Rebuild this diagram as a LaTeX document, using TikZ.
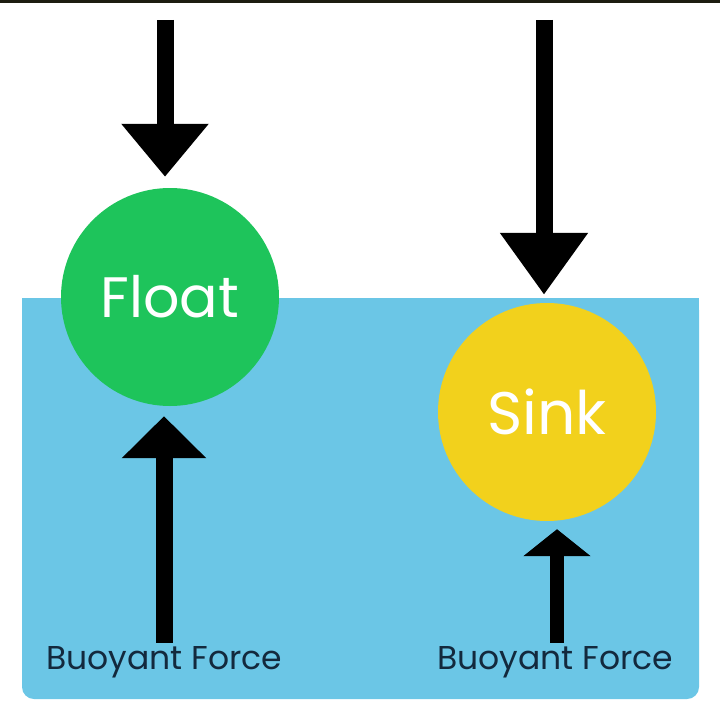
\documentclass[tikz,border=0pt]{standalone}
\usepackage{fontspec}
\setmainfont{Poppins}
\usetikzlibrary{arrows.meta,positioning}
\definecolor{water}{HTML}{6BC6E6}
\definecolor{floatgreen}{HTML}{1EC45B}
\definecolor{sinkyellow}{HTML}{F2D11C}
\definecolor{ink}{HTML}{13293D}
\definecolor{topbar}{HTML}{1C1C10}

\begin{document}
\begin{tikzpicture}[x=1pt,y=-1pt,
    ball/.style={circle,minimum size=218pt,inner sep=0pt,text=white},
    force/.style={line width=17pt},
    lbl/.style={text=ink,font=\fontsize{33}{38}\selectfont}]
    \useasboundingbox (0,0) rectangle (720,709);
    \fill[topbar] (0,0) rectangle (720,3);
    % water tank
    \fill[water,rounded corners=12pt] (22,298) rectangle (699,699);
    \fill[water] (22,298) rectangle (699,330);
    \node[ball,fill=floatgreen,font=\fontsize{57}{64}\selectfont] (float) at (170,297) {Float};
    \node[ball,fill=sinkyellow,font=\fontsize{60}{66}\selectfont] (sink) at (547,412) {Sink};
    \node[lbl] (bf1) at (164,662) {Buoyant Force};
    \node[lbl] (bf2) at (555,662) {Buoyant Force};
    \coordinate (t1) at (165,20);
    \coordinate (t2) at (544,20);
    % weight and buoyancy
    \draw[force,-{Triangle[length=53pt,width=84pt]},shorten >=11pt] (t1) -- (t1 |- float.north);
    \draw[force,-{Triangle[length=62pt,width=84pt]},shorten >=8pt] (t2) -- (t2 |- sink.north);
    \draw[force,-{Triangle[length=42pt,width=82pt]},shorten >=10pt] (bf1.north) -- (bf1.north |- float.south);
    \draw[force,line width=14pt,-{Triangle[length=27pt,width=66pt]},shorten >=8pt] ([xshift=2pt]bf2.north) -- ([xshift=2pt]bf2.north |- sink.south);
  \end{tikzpicture}
\end{document}
